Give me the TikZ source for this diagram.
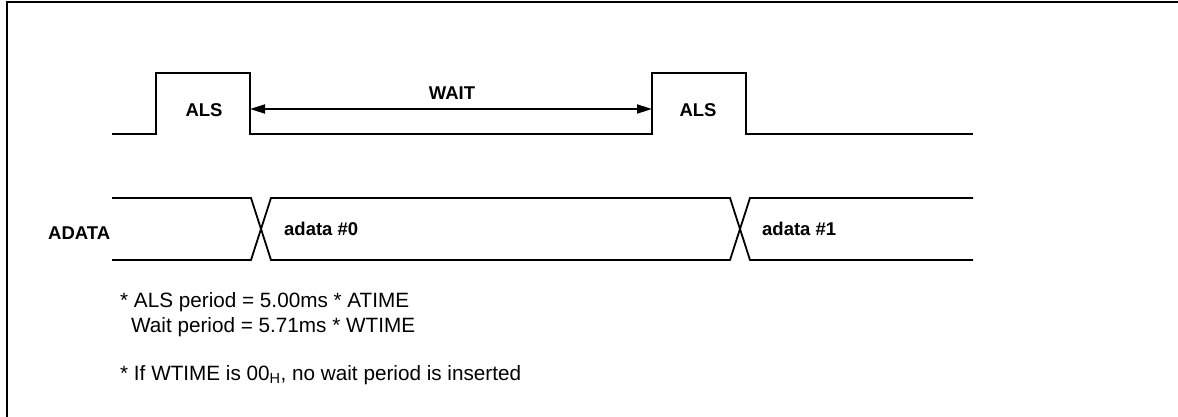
\documentclass[tikz,border=0pt]{standalone}
\usepackage{fontspec}
\setmainfont{Liberation Sans}
\usetikzlibrary{arrows.meta}
\begin{document}
\begin{tikzpicture}[x=1pt,y=-1pt,
  sig/.style={line width=1.8pt, line join=miter},
  frame/.style={line width=2pt},
  lbl/.style={font=\fontsize{18.5}{20}\selectfont\bfseries, inner sep=0pt},
  note/.style={font=\fontsize{20.7}{24}\selectfont, anchor=base west, inner sep=0pt},
  dim/.style={line width=1.8pt, {Triangle[length=15pt,width=9pt]}-{Triangle[length=15pt,width=9pt]}}]
\useasboundingbox (0,0) rectangle (1178,417);
% frame (top and left edges)
\draw[frame] (6.5,417) -- (6.5,2.5) -- (1178,2.5);
% ALS signal
\draw[sig] (112,134) -- (156,134) -- (156,73) -- (250,73) -- (250,134) -- (652,134) -- (652,73) -- (746,73) -- (746,134) -- (973,134);
\node[lbl] (als1) at (204,110) {ALS};
\node[lbl] (als2) at (698,110) {ALS};
\node[lbl] (wait) at (452,93) {WAIT};
\coordinate (wl) at (250,109);
\coordinate (wr) at (652,109);
\draw[dim] (wl) -- (wr);
% ADATA bus
\draw[sig] (112,198) -- (251,198) -- (271,260) -- (730,260) -- (750,198) -- (973,198);
\draw[sig] (112,260) -- (251,260) -- (271,198) -- (730,198) -- (750,260) -- (973,260);
\node[lbl, anchor=west] (adata) at (48,233) {ADATA};
\node[lbl, anchor=west] (d0) at (284,229) {adata \#0};
\node[lbl, anchor=west] (d1) at (762,229) {adata \#1};
% notes
\node[note] (n1) at (120,307) {* ALS period = 5.00ms * ATIME};
\node[note] (n2) at (131,332) {Wait period = 5.71ms * WTIME};
\node[note] (n3) at (120,380) {* If WTIME is 00\textsubscript{H}, no wait period is inserted};
\end{tikzpicture}
\end{document}
